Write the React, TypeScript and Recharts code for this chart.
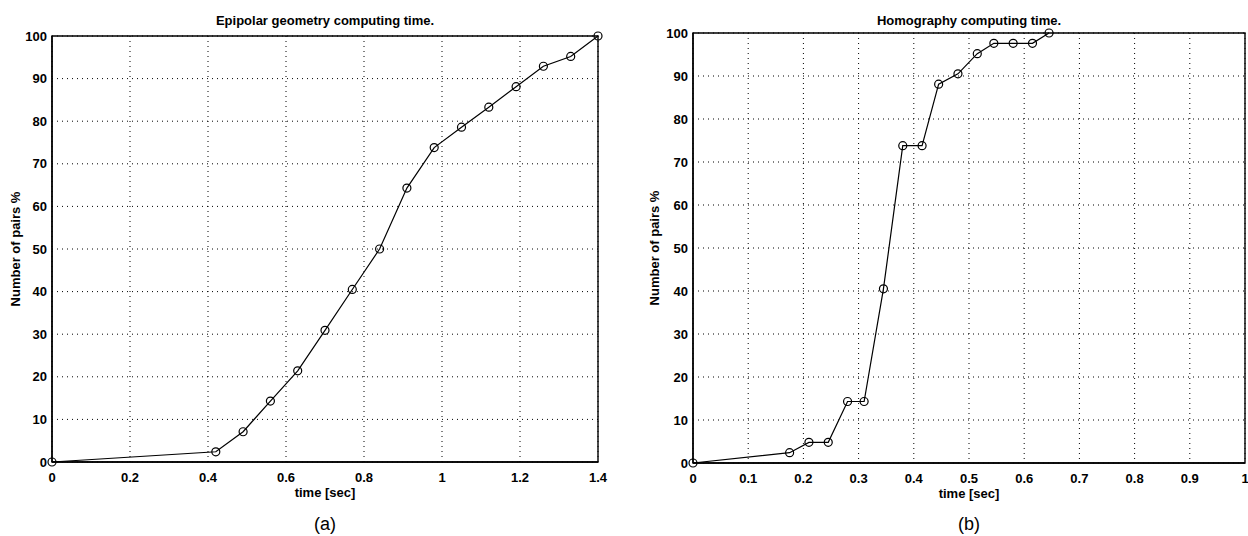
import React from "react";
import {
  LineChart,
  Line,
  XAxis,
  YAxis,
  CartesianGrid,
  ReferenceArea,
} from "recharts";

// (a) epipolar geometry
const epipolarTime = [0, 0.42, 0.49, 0.56, 0.63, 0.7, 0.77, 0.84, 0.91, 0.98, 1.05, 1.12, 1.19, 1.26, 1.33, 1.4];
const epipolarPairs = [0, 2.4, 7.1, 14.3, 21.4, 30.9, 40.5, 50, 64.3, 73.8, 78.6, 83.3, 88.1, 92.9, 95.2, 100];

// (b) homography
const homographyTime = [0, 0.175, 0.21, 0.245, 0.28, 0.31, 0.345, 0.38, 0.415, 0.445, 0.48, 0.515, 0.545, 0.58, 0.615, 0.645];
const homographyPairs = [0, 2.4, 4.8, 4.8, 14.3, 14.3, 40.5, 73.8, 73.8, 88.1, 90.5, 95.2, 97.6, 97.6, 97.6, 100];

const yTicks = [0, 10, 20, 30, 40, 50, 60, 70, 80, 90, 100];
const epipolarXTicks = [0, 0.2, 0.4, 0.6, 0.8, 1, 1.2, 1.4];
const homographyXTicks = [0, 0.1, 0.2, 0.3, 0.4, 0.5, 0.6, 0.7, 0.8, 0.9, 1];

const FONT = "'Liberation Sans', Arial, Helvetica, sans-serif";

const zip = (xs: number[], ys: number[]) => xs.map((t, i) => ({ t, p: ys[i] }));

const Circle = (props: any) => {
  const { cx, cy } = props;
  if (cx == null || cy == null) return null;
  return <circle cx={cx} cy={cy} r={4} fill="none" stroke="#000" strokeWidth={1.2} />;
};

interface PanelProps {
  left: number;
  title: string;
  caption: string;
  xs: number[];
  ys: number[];
  xTicks: number[];
  xMax: number;
  yAxisWidth: number;
  marginRight: number;
  marginTop: number;
  plotBottom: number;
  yLabelOffset: number;
}

const Panel = (p: PanelProps) => {
  const W = 624;
  const H = 536;
  const xAxisH = 34;
  const plotLeft = p.yAxisWidth;
  const plotRight = W - p.marginRight;
  const center = (plotLeft + plotRight) / 2;
  const textStyle = { fontSize: 13, fill: "#000", fontFamily: FONT, fontWeight: "bold" as const };
  return (
    <div style={{ position: "absolute", left: p.left, top: 0, width: W, height: H }}>
      <div
        style={{
          position: "absolute",
          left: center - 200,
          width: 400,
          top: 13,
          textAlign: "center",
          fontFamily: FONT,
          fontSize: 13,
          fontWeight: "bold",
          lineHeight: "16px",
          color: "#000",
        }}
      >
        {p.title}
      </div>
      <LineChart
        width={W}
        height={H}
        data={zip(p.xs, p.ys)}
        margin={{ top: p.marginTop, right: p.marginRight, left: 0, bottom: H - p.plotBottom - xAxisH }}
      >
        <CartesianGrid stroke="#000" strokeDasharray="1 4" strokeWidth={1} />
        <XAxis
          dataKey="t"
          type="number"
          domain={[0, p.xMax]}
          ticks={p.xTicks}
          tickFormatter={(v: number) => String(v)}
          height={xAxisH}
          tickLine={false}
          tickSize={3}
          tickMargin={8}
          axisLine={{ stroke: "#000", strokeWidth: 1.4 }}
          tick={textStyle}
          interval={0}
          label={{ value: "time [sec]", position: "insideBottom", offset: -1, style: textStyle }}
        />
        <YAxis
          type="number"
          domain={[0, 100]}
          ticks={yTicks}
          width={p.yAxisWidth}
          tickLine={false}
          tickSize={3}
          tickMargin={2}
          axisLine={{ stroke: "#000", strokeWidth: 1.4 }}
          tick={textStyle}
          interval={0}
          label={{
            value: "Number of pairs %",
            angle: -90,
            position: "insideLeft",
            offset: p.yLabelOffset,
            style: { ...textStyle, textAnchor: "middle" },
          }}
        />
        <ReferenceArea x1={0} x2={p.xMax} y1={0} y2={100} fill="none" stroke="#000" strokeWidth={1.4} />
        <Line
          dataKey="p"
          type="linear"
          stroke="#000"
          strokeWidth={1.2}
          dot={<Circle />}
          activeDot={false}
          isAnimationActive={false}
        />
      </LineChart>
      <div
        style={{
          position: "absolute",
          left: center - 50,
          width: 100,
          top: 513,
          textAlign: "center",
          fontFamily: FONT,
          fontSize: 18,
          lineHeight: "22px",
          color: "#000",
        }}
      >
        {p.caption}
      </div>
    </div>
  );
};

export default function App() {
  return (
    <div style={{ position: "absolute", left: 0, top: 0, width: 1248, height: 536, background: "#fff", overflow: "hidden" }}>
      <Panel
        left={0}
        title="Epipolar geometry computing time."
        caption="(a)"
        xs={epipolarTime}
        ys={epipolarPairs}
        xTicks={epipolarXTicks}
        xMax={1.4}
        yAxisWidth={52}
        marginRight={26}
        marginTop={36}
        plotBottom={462}
        yLabelOffset={15}
      />
      <Panel
        left={624}
        title="Homography computing time."
        caption="(b)"
        xs={homographyTime}
        ys={homographyPairs}
        xTicks={homographyXTicks}
        xMax={1}
        yAxisWidth={69}
        marginRight={3}
        marginTop={33}
        plotBottom={463}
        yLabelOffset={30}
      />
    </div>
  );
}
